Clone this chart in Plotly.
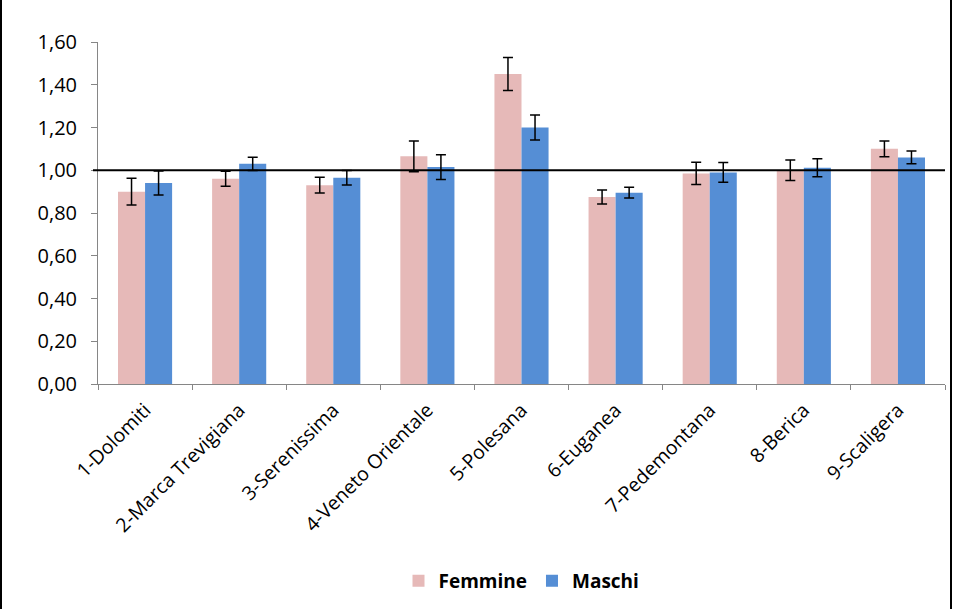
import plotly.graph_objects as go

categories = ["1-Dolomiti", "2-Marca Trevigiana", "3-Serenissima", "4-Veneto Orientale",
              "5-Polesana", "6-Euganea", "7-Pedemontana", "8-Berica", "9-Scaligera"]
femmine = [0.90, 0.96, 0.93, 1.065, 1.45, 0.875, 0.985, 1.00, 1.10]
femmine_err = [0.062, 0.035, 0.037, 0.072, 0.077, 0.033, 0.052, 0.048, 0.037]
maschi = [0.94, 1.03, 0.965, 1.015, 1.20, 0.895, 0.99, 1.012, 1.06]
maschi_err = [0.056, 0.031, 0.034, 0.058, 0.058, 0.025, 0.046, 0.042, 0.03]
y_ticks = [0, 0.2, 0.4, 0.6, 0.8, 1.0, 1.2, 1.4, 1.6]
reference_value = 1.0

FONT = "Open Sans"

fig = go.Figure()
fig.add_trace(go.Bar(
    name="Femmine", x=categories, y=femmine,
    marker=dict(color="#E6B9B8", line=dict(width=0)),
    error_y=dict(type="data", array=femmine_err, color="black", thickness=1.5, width=5),
))
fig.add_trace(go.Bar(
    name="Maschi", x=categories, y=maschi,
    marker=dict(color="#558ED5", line=dict(width=0)),
    error_y=dict(type="data", array=maschi_err, color="black", thickness=1.5, width=5),
))

W, H = 953, 609
ml, mr, mt, mb = 98, 8, 42, 225
pw = W - ml - mr
ph = H - mt - mb

fig.add_shape(type="line", xref="paper", yref="y", x0=-5 / pw, x1=1.0,
              y0=reference_value, y1=reference_value,
              line=dict(color="black", width=2), layer="above")
# outer frame left/right
for xp in (-(ml - 1) / pw, 1 + (mr - 2) / pw):
    fig.add_shape(type="line", xref="paper", yref="paper", x0=xp, x1=xp,
                  y0=-mb / ph, y1=1 + mt / ph, line=dict(color="black", width=2))

fig.update_layout(
    width=W, height=H,
    margin=dict(l=ml, r=mr, t=mt, b=mb, autoexpand=False),
    paper_bgcolor="white", plot_bgcolor="white",
    barmode="group", bargap=0.425, bargroupgap=0,
    separators=",.",
    font=dict(family=FONT, size=18, color="black"),
    showlegend=True,
    legend=dict(orientation="h", x=0.5, xanchor="center", y=-0.576, yanchor="middle",
                font=dict(family=FONT, size=19, color="black", weight="bold"),
                itemwidth=30, traceorder="normal"),
    xaxis=dict(
        type="category", tickangle=-45, showline=True, linecolor="#868686", linewidth=1,
        ticks="outside", tickson="boundaries", ticklen=5, tickcolor="#868686",
        showgrid=False, tickfont=dict(family=FONT, size=19.5, color="black"),
        ticklabelstandoff=6,
    ),
    yaxis=dict(
        range=[0, 1.6], tickvals=y_ticks, tickformat=".2f", showline=True,
        linecolor="#868686", linewidth=1, ticks="outside", ticklen=6, tickcolor="#868686",
        showgrid=False, zeroline=False, tickfont=dict(family=FONT, size=20, color="black"),
        ticklabelstandoff=10,
    ),
)

fig.write_html("out.html", post_script="document.body.style.margin='0';",
               config={"displayModeBar": False})
